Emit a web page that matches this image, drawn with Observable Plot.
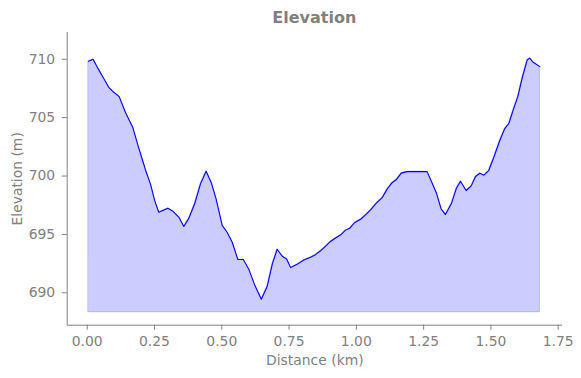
<!DOCTYPE html>
<html>
<head>
<meta charset="utf-8">
<script src="https://cdn.jsdelivr.net/npm/d3@7"></script>
<script src="https://cdn.jsdelivr.net/npm/@observablehq/plot@0.6"></script>
<style>
  html, body { margin: 0; padding: 0; background: #fff; }
  #wrap { position: relative; width: 581px; height: 378px; font-family: "DejaVu Sans", sans-serif; }
  #title { position: absolute; z-index: 2; left: 66.7px; width: 495.3px; top: 8px; text-align: center; font-weight: bold; font-size: 16px; color: #808080; line-height: 20px; }
</style>
</head>
<body>
<div id="wrap"><div id="title">Elevation</div></div>
<script>
const distanceKm = [0.005,0.022,0.039,0.059,0.080,0.099,0.119,0.142,0.170,0.189,0.208,0.220,0.235,0.251,0.266,0.300,0.320,0.341,0.359,0.378,0.399,0.421,0.442,0.462,0.479,0.502,0.520,0.539,0.560,0.580,0.600,0.622,0.647,0.669,0.688,0.706,0.725,0.741,0.756,0.780,0.805,0.830,0.848,0.867,0.886,0.904,0.923,0.941,0.960,0.976,0.993,1.016,1.034,1.053,1.075,1.096,1.115,1.133,1.150,1.167,1.189,1.263,1.282,1.298,1.315,1.331,1.353,1.372,1.387,1.408,1.427,1.443,1.459,1.474,1.492,1.511,1.532,1.551,1.567,1.583,1.600,1.617,1.635,1.644,1.657,1.682];
const elevationM = [709.83,710.0,709.26,708.46,707.6,707.17,706.8,705.46,704.13,702.6,701.18,700.3,699.33,697.9,696.9,697.24,696.96,696.47,695.68,696.4,697.6,699.33,700.41,699.38,698.05,695.76,695.19,694.33,692.85,692.85,692.05,690.7,689.45,690.57,692.48,693.73,693.13,692.9,692.16,692.44,692.81,693.04,693.27,693.6,694.0,694.4,694.7,694.95,695.37,695.54,696.0,696.3,696.68,697.1,697.7,698.15,698.9,699.43,699.73,700.25,700.38,700.38,699.38,698.53,697.19,696.7,697.62,698.96,699.56,698.76,699.16,699.96,700.24,700.07,700.47,701.61,702.98,704.04,704.52,705.67,706.8,708.46,709.95,710.09,709.74,709.37];
const baseElevation = 688.34;
const xTicks = [0, 0.25, 0.5, 0.75, 1.0, 1.25, 1.5, 1.75];
const yTicks = [690, 695, 700, 705, 710];

const data = distanceKm.map((d, i) => ({d, e: elevationM[i]}));
const xDomain = [-0.0743, 1.766];
const yDomain = [687.23, 712.29];
const grey = "#808080";

const chart = Plot.plot({
  width: 581,
  height: 378,
  marginLeft: 66.7,
  marginRight: 19,
  marginTop: 32,
  marginBottom: 53.3,
  style: {fontFamily: "DejaVu Sans, sans-serif", fontSize: "13.9px", color: grey, background: "transparent"},
  x: {domain: xDomain},
  y: {domain: yDomain},
  marks: [
    Plot.areaY(data, {x: "d", y1: baseElevation, y2: "e", fill: "blue", fillOpacity: 0.2, stroke: "blue", strokeOpacity: 0.2, strokeWidth: 1}),
    Plot.lineY(data, {x: "d", y: "e", stroke: "blue", strokeWidth: 1.1}),
    Plot.ruleX([xDomain[0]], {stroke: grey, strokeWidth: 1}),
    Plot.ruleY([yDomain[0]], {stroke: grey, strokeWidth: 1}),
    Plot.axisX({ticks: xTicks, tickFormat: d3.format(".2f"), tickSize: 5, tickPadding: 6, stroke: grey, fill: grey, label: "Distance (km)", labelAnchor: "center", labelOffset: 40, labelArrow: "none"}),
    Plot.axisY({ticks: yTicks, tickSize: 5, tickPadding: 7, stroke: grey, fill: grey, label: "Elevation (m)", labelAnchor: "center", labelOffset: 55, labelArrow: "none"})
  ]
});
chart.style.position = "absolute";
chart.style.left = "0";
chart.style.top = "0";
chart.style.zIndex = "1";
document.getElementById("wrap").appendChild(chart);
</script>
</body>
</html>
